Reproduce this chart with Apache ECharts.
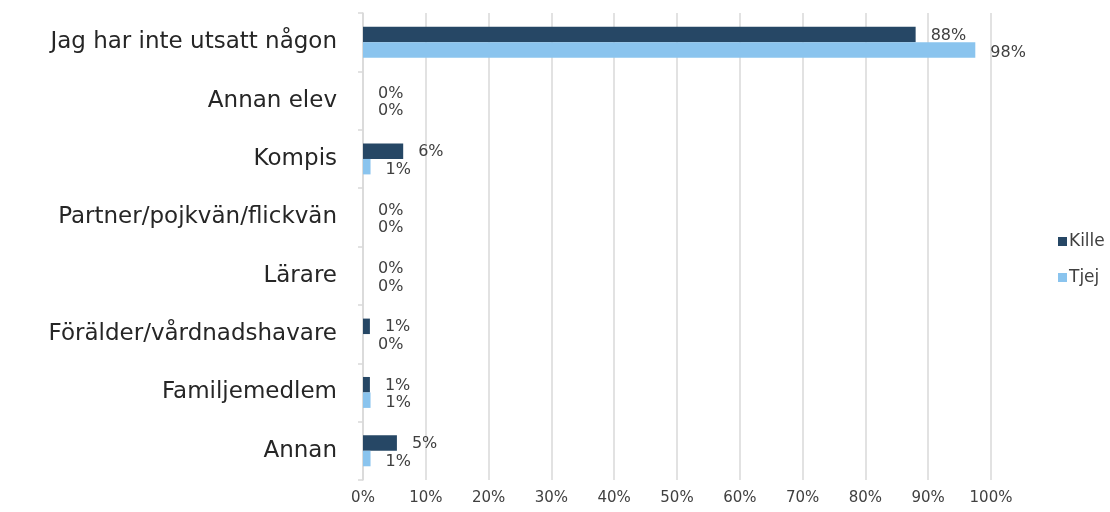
<!DOCTYPE html>
<html>
<head>
<meta charset="utf-8">
<script src="https://cdn.jsdelivr.net/npm/echarts@6/dist/echarts.min.js"></script>
<style>html,body{margin:0;padding:0;background:#fff}#c{width:1110px;height:512px}</style>
</head>
<body>
<div id="c"></div>
<script>
const categories = ["Jag har inte utsatt någon","Annan elev","Kompis","Partner/pojkvän/flickvän","Lärare","Förälder/vårdnadshavare","Familjemedlem","Annan"];
const kille = [88, 0, 6.4, 0, 0, 1.1, 1.1, 5.4];
const tjej = [97.5, 0, 1.2, 0, 0, 0, 1.2, 1.2];
const xTicks = [0,10,20,30,40,50,60,70,80,90,100];

const FONT = "DejaVu Sans";
const chart = echarts.init(document.getElementById('c'));
const lbl = (dy) => ({
  show: true, position: 'right', distance: 15, offset: [0, dy],
  color: '#404040', fontFamily: FONT, fontSize: 16,
  formatter: p => Math.round(p.value) + '%'
});
chart.setOption({
  animation: false,
  textStyle: {fontFamily: FONT},
  grid: {left: 363, right: 119, top: 13, bottom: 32, containLabel: false},
  legend: {
    orient: 'vertical', left: 1053, top: 228, itemWidth: 9, itemHeight: 9, itemGap: 19,
    icon: 'rect', textStyle: {fontFamily: FONT, fontSize: 17, color: '#404040', padding: [0,0,0,-3]},
    data: ['Kille','Tjej']
  },
  xAxis: {
    type: 'value', min: xTicks[0], max: xTicks[xTicks.length-1], interval: 10,
    axisLine: {show: false}, axisTick: {show: false},
    axisLabel: {formatter: '{value}%', color: '#404040', fontFamily: FONT, fontSize: 15, margin: 11},
    splitLine: {lineStyle: {color: '#d9d9d9', width: 1.5}}
  },
  yAxis: {
    type: 'category', data: categories, inverse: true,
    axisLine: {lineStyle: {color: '#d9d9d9', width: 1.5}},
    axisTick: {show: true, length: 5, lineStyle: {color: '#d9d9d9', width: 1.5}},
    axisLabel: {color: '#262626', fontFamily: FONT, fontSize: 23, margin: 26}
  },
  series: [
    {name: 'Kille', type: 'bar', data: kille, barGap: '0%', barCategoryGap: '47%',
     itemStyle: {color: '#264765'}, label: lbl(1)},
    {name: 'Tjej', type: 'bar', data: tjej, barGap: '0%', barCategoryGap: '47%',
     itemStyle: {color: '#8AC4EE'}, label: lbl(3)}
  ]
});
</script>
</body>
</html>
